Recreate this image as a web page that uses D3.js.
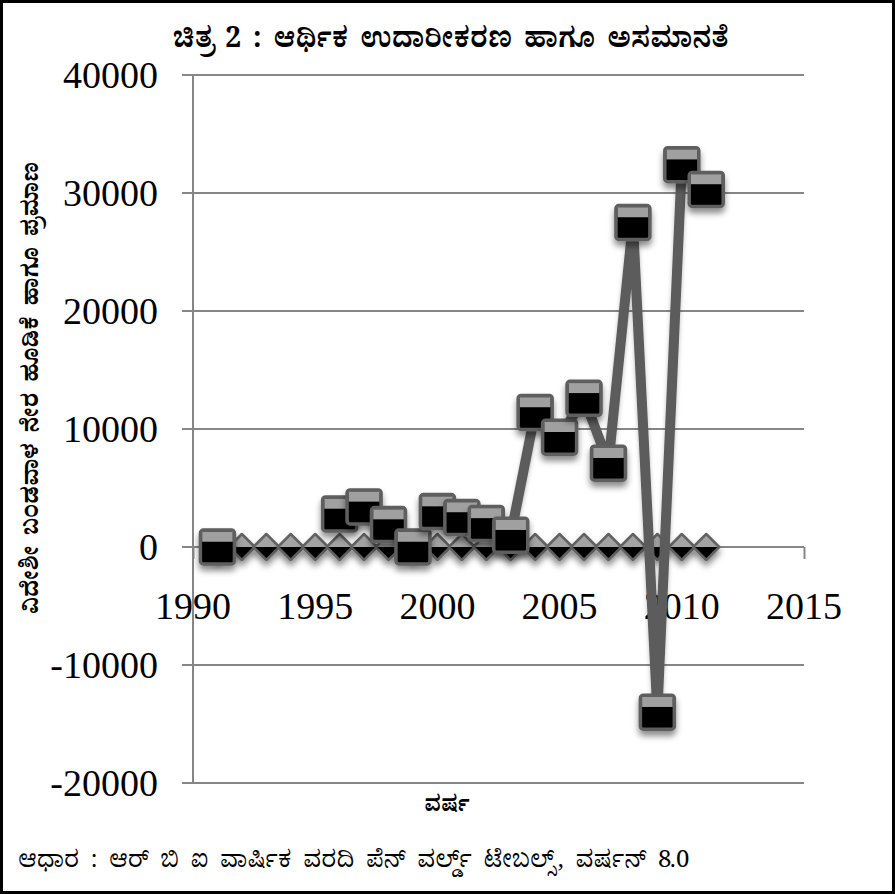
<!DOCTYPE html>
<html>
<head>
<meta charset="utf-8">
<script src="https://cdnjs.cloudflare.com/ajax/libs/d3/7.8.5/d3.min.js"></script>
<style>
  body { margin: 0; background: #fff; }
  svg { display: block; }
</style>
</head>
<body>
<div id="graph"></div>
<script>

// chart values
var years = [1991, 1992, 1993, 1994, 1995, 1996, 1997, 1998, 1999, 2000, 2001,
             2002, 2003, 2004, 2005, 2006, 2007, 2008, 2009, 2010, 2011];
// square series (null = no value in that year)
var squareValues = [0, null, null, null, null, 2800, 3400, 1900, 0, 3000, 2500,
                    2000, 1000, 11400, 9300, 12600, 7100, 27500, -14000, 32400, 30300];
// diamond series, sits on the zero line
var diamondValues = [0, 0, 0, 0, 0, 0, 0, 0, 0, 0, 0,
                     0, 0, 0, 0, 0, 0, 0, 0, 0, 0];

var xTicks = [1990, 1995, 2000, 2005, 2010, 2015];
var yTicks = [-20000, -10000, 0, 10000, 20000, 30000, 40000];

var titleText = "ಚಿತ್ರ 2 : ಆರ್ಥಿಕ ಉದಾರೀಕರಣ ಹಾಗೂ ಅಸಮಾನತೆ";
var yTitleText = "ವಿದೇಶೀ ಬಂಡವಾಳ ನೇರ ಹೂಡಿಕೆ ಹಾಗೂ ಪ್ರಮಾಣ";
var xTitleText = "ವರ್ಷ";
var sourceText = "ಆಧಾರ : ಆರ್ ಬಿ ಐ ವಾರ್ಷಿಕ ವರದಿ ಪೆನ್ ವರ್ಲ್ಡ್ ಟೇಬಲ್ಸ್, ವರ್ಷನ್ 8.0";

var knFont = "'Noto Serif Kannada', 'Tunga', 'Noto Sans Kannada', 'Lohit Kannada', serif";
var numFont = "'Liberation Serif', 'Times New Roman', serif";

var svgWidth = 895;
var svgHeight = 894;

var svg = d3.select("#graph")
  .append("svg")
  .attr("width", svgWidth)
  .attr("height", svgHeight);

// drop shadows under the markers
var defs = svg.append("defs");
var shadow = defs.append("filter")
  .attr("id", "shadow")
  .attr("x", "-50%").attr("y", "-50%")
  .attr("width", "200%").attr("height", "200%");
shadow.append("feDropShadow")
  .attr("dx", 0).attr("dy", 5)
  .attr("stdDeviation", 3)
  .attr("flood-color", "#000")
  .attr("flood-opacity", 0.45);

var lineShadow = defs.append("filter")
  .attr("id", "lineShadow")
  .attr("x", "-50%").attr("y", "-50%")
  .attr("width", "200%").attr("height", "200%");
lineShadow.append("feDropShadow")
  .attr("dx", 0).attr("dy", 3)
  .attr("stdDeviation", 2)
  .attr("flood-color", "#000")
  .attr("flood-opacity", 0.25);

svg.append("rect")
  .attr("width", svgWidth)
  .attr("height", svgHeight)
  .attr("fill", "#fff");

// outer frame
svg.append("rect")
  .attr("x", 1.5).attr("y", 1.5)
  .attr("width", svgWidth - 3)
  .attr("height", svgHeight - 3)
  .attr("fill", "none")
  .attr("stroke", "#000")
  .attr("stroke-width", 3);

var xScale = d3.scaleLinear()
  .domain([1990, 2015])
  .range([193, 804]);

var yScale = d3.scaleLinear()
  .domain([-20000, 40000])
  .range([783, 75]);

// gridlines
svg.append("g")
  .selectAll("line")
  .data(yTicks)
  .enter()
  .append("line")
  .attr("x1", 182)
  .attr("x2", xScale(2015))
  .attr("y1", d => yScale(d))
  .attr("y2", d => yScale(d))
  .attr("stroke", "#868686")
  .attr("stroke-width", 2);

// y axis line
svg.append("line")
  .attr("x1", xScale(1990)).attr("x2", xScale(1990))
  .attr("y1", yScale(40000)).attr("y2", yScale(-20000))
  .attr("stroke", "#868686")
  .attr("stroke-width", 2);

// x axis crosses at zero
var xAxis = d3.axisBottom(xScale)
  .tickValues(xTicks)
  .tickSize(12)
  .tickFormat("");

svg.append("g")
  .attr("transform", `translate(0, ${yScale(0)})`)
  .call(xAxis)
  .call(g => g.select(".domain").remove())
  .call(g => g.selectAll(".tick line").attr("stroke", "#868686").attr("stroke-width", 2));

// tick labels, plain hyphen for negatives
var yAxis = d3.axisLeft(yScale)
  .tickValues(yTicks)
  .tickSize(0)
  .tickPadding(0)
  .tickFormat(d => String(d));

svg.append("g")
  .attr("transform", "translate(158, 0)")
  .call(yAxis)
  .call(g => g.select(".domain").remove())
  .call(g => g.selectAll("text")
    .attr("font-family", numFont)
    .attr("font-size", 38)
    .attr("fill", "#000"));

svg.append("g")
  .selectAll("text")
  .data(xTicks)
  .enter()
  .append("text")
  .attr("x", d => xScale(d))
  .attr("y", 619)
  .attr("text-anchor", "middle")
  .attr("font-family", numFont)
  .attr("font-size", 38)
  .text(d => d);

// diamond series
var diamondData = years.map((y, i) => ({year: y, value: diamondValues[i]}));
var dSize = 13;

var diamonds = svg.append("g")
  .selectAll("g")
  .data(diamondData)
  .enter()
  .append("g")
  .attr("transform", d => `translate(${xScale(d.year)}, ${yScale(d.value)})`)
  .attr("filter", "url(#shadow)");

diamonds.append("path")
  .attr("d", `M${-dSize},0 L0,${-dSize} L${dSize},0 Z`)
  .attr("fill", "#a3a3a3");
diamonds.append("path")
  .attr("d", `M${-dSize},0 L0,${dSize} L${dSize},0 Z`)
  .attr("fill", "#000");
diamonds.append("path")
  .attr("d", `M${-dSize},0 L0,${-dSize} L${dSize},0 L0,${dSize} Z`)
  .attr("fill", "none")
  .attr("stroke", "#626262")
  .attr("stroke-width", 2.5)
  .attr("stroke-linejoin", "round");

// square series with its thick line
var squareData = years.map((y, i) => ({year: y, value: squareValues[i]}));

var line = d3.line()
  .defined(d => d.value !== null)
  .x(d => xScale(d.year))
  .y(d => yScale(d.value));

svg.append("path")
  .datum(squareData)
  .attr("d", line)
  .attr("fill", "none")
  .attr("stroke", "#5c5c5c")
  .attr("stroke-width", 10)
  .attr("stroke-linejoin", "miter")
  .attr("filter", "url(#lineShadow)");

var sSize = 34;

var squares = svg.append("g")
  .selectAll("g")
  .data(squareData.filter(d => d.value !== null))
  .enter()
  .append("g")
  .attr("transform", d => `translate(${xScale(d.year)}, ${yScale(d.value)})`)
  .attr("filter", "url(#shadow)");

squares.append("rect")
  .attr("x", -sSize / 2).attr("y", -sSize / 2)
  .attr("width", sSize).attr("height", sSize)
  .attr("rx", 3)
  .attr("fill", "#000")
  .attr("stroke", "#5e5e5e")
  .attr("stroke-width", 3.5);

squares.append("rect")
  .attr("x", -sSize / 2 + 1.75).attr("y", -sSize / 2 + 1.75)
  .attr("width", sSize - 3.5).attr("height", 10)
  .attr("fill", "#a0a0a0");

// titles
svg.append("text")
  .attr("x", 451)
  .attr("y", 47)
  .attr("text-anchor", "middle")
  .attr("font-family", knFont)
  .attr("font-weight", "bold")
  .attr("font-size", 28)
  .attr("word-spacing", 5)
  .text(titleText);

svg.append("text")
  .attr("transform", "translate(38, 388) rotate(-90)")
  .attr("text-anchor", "middle")
  .attr("font-family", knFont)
  .attr("font-weight", "bold")
  .attr("font-size", 23)
  .attr("word-spacing", 5)
  .text(yTitleText);

svg.append("text")
  .attr("x", 447)
  .attr("y", 811)
  .attr("text-anchor", "middle")
  .attr("font-family", knFont)
  .attr("font-weight", "bold")
  .attr("font-size", 22)
  .text(xTitleText);

svg.append("text")
  .attr("x", 18)
  .attr("y", 867)
  .attr("font-family", knFont)
  .attr("font-size", 24)
  .attr("word-spacing", 6)
  .text(sourceText);

</script>
</body>
</html>
